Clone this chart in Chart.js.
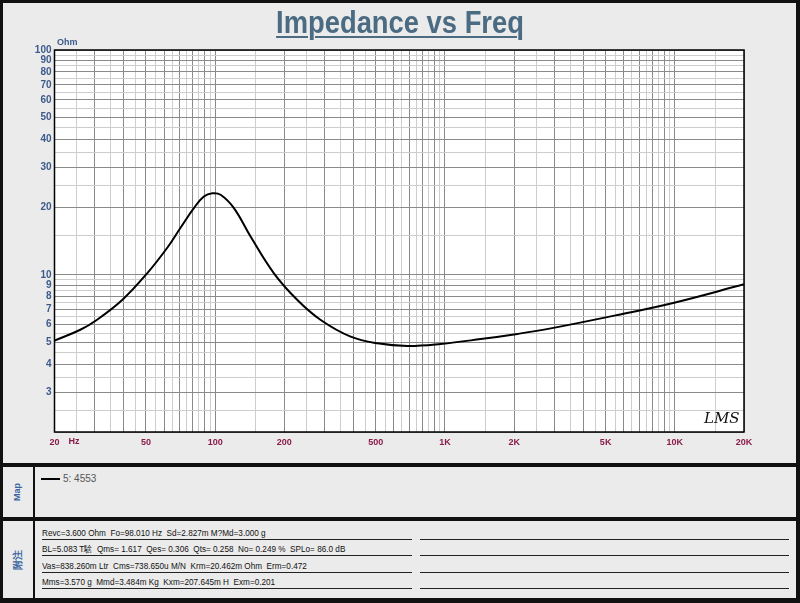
<!DOCTYPE html>
<html>
<head>
<meta charset="utf-8">
<script src="https://cdn.jsdelivr.net/npm/chart.js@4.4.1/dist/chart.umd.min.js"></script>
<style>
  body { margin: 0; background: #ebebeb; font-family: "Liberation Sans", Arial, sans-serif; }
  #page { position: relative; width: 800px; height: 603px; overflow: hidden; background: #ebebeb; }
  #chart-box { position: absolute; left: 0; top: 0; width: 800px; height: 463px; }
  #title { position: absolute; left: 0; top: 4px; width: 800px; text-align: center;
    font-family: "Liberation Sans", Arial, sans-serif;
    font-weight: bold; font-size: 32px; color: #4a6b82;
    transform: scaleX(0.855); transform-origin: 400px 0;
    text-decoration: underline; text-decoration-thickness: 2px; text-underline-offset: 3px; }
  .bar { position: absolute; background: #111; }
  .side { position: absolute; color: #3a64a0; font-weight: bold; transform: translate(-50%, -50%) rotate(-90deg); white-space: nowrap; }
  #legend-line { position: absolute; left: 41px; top: 478px; width: 19px; height: 2px; background: #000; }
  #legend-text { position: absolute; left: 63px; top: 473px; font-size: 10px; line-height: 12px; color: #555; }
  .note { position: absolute; left: 42px; font-size: 9.2px; line-height: 10px; color: #111; white-space: pre;
    transform: scaleX(0.89); transform-origin: 0 0; }
  .rule { position: absolute; height: 1px; background: #222; }
</style>
</head>
<body>
<div id="page">
  <div id="chart-box"><canvas id="chart"></canvas></div>
  <div id="title">Impedance vs Freq</div>

  <div class="bar" style="left:0;top:463px;width:800px;height:4px"></div>
  <div class="bar" style="left:0;top:517px;width:800px;height:4px"></div>
  <div class="bar" style="left:33px;top:467px;width:2px;height:131px"></div>
  <div class="bar" style="left:0;top:0;width:800px;height:3px"></div>
  <div class="bar" style="left:0;top:0;width:3px;height:603px"></div>
  <div class="bar" style="left:796px;top:0;width:4px;height:603px"></div>
  <div class="bar" style="left:0;top:598px;width:800px;height:5px"></div>

  <div class="side" style="left:17px;top:492px;font-size:9px">Map</div>
  <div id="legend-line"></div>
  <div id="legend-text"></div>

  <div class="side" style="left:18px;top:560px;font-size:10px">附注</div>
  <div id="notes"></div>
</div>

<script>
// curve
const freqHz = [20, 25.9, 30.2, 39.4, 50.6, 61.9, 70.7, 80.8, 89.3, 97.2, 105.6, 120.7, 142.6, 180.2,
                227.9, 288, 388.8, 508, 686, 958, 1431, 2066, 2887, 5633, 9934, 20000];
const impedanceOhm = [5.1, 5.7, 6.25, 7.73, 10.16, 13.2, 16.2, 19.8, 22.3, 23.06, 22.7, 19.8, 14.8, 10.16,
                      7.73, 6.30, 5.31, 4.96, 4.83, 4.93, 5.18, 5.46, 5.78, 6.63, 7.52, 9.08];
const seriesName = '5: 4553';

const xTickValues = [20, 50, 100, 200, 500, 1000, 2000, 5000, 10000, 20000];
const xTickLabels = ['20', '50', '100', '200', '500', '1K', '2K', '5K', '10K', '20K'];
const yTickValues = [3, 4, 5, 6, 7, 8, 9, 10, 20, 30, 40, 50, 60, 70, 80, 90, 100];
const yTickLabels = ['3', '4', '5', '6', '7', '8', '9', '10', '20', '30', '40', '50', '60', '70', '80', '90', '100'];

const noteLines = [
  'Revc=3.600 Ohm  Fo=98.010 Hz  Sd=2.827m M?Md=3.000 g',
  'BL=5.083 T騇  Qms= 1.617  Qes= 0.306  Qts= 0.258  No= 0.249 %  SPLo= 86.0 dB',
  'Vas=838.260m Ltr  Cms=738.650u M/N  Krm=20.462m Ohm  Erm=0.472',
  'Mms=3.570 g  Mmd=3.484m Kg  Kxm=207.645m H  Exm=0.201'
];

// grid lines at every 1, 1.5, 2, 2.5 ... 9.5 of a decade
const gridSteps = [1, 1.5, 2, 2.5, 3, 3.5, 4, 4.5, 5, 5.5, 6, 6.5, 7, 7.5, 8, 8.5, 9, 9.5];

function gridValues(min, max) {
    const out = [];
    for (let d = 1; d <= 100000; d *= 10) {
        for (const m of gridSteps) {
            const v = m * d;
            if (v >= min - 1e-9 && v <= max + 1e-9) out.push(v);
        }
    }
    return out;
}

function isMajor(v) {
    const m = v / Math.pow(10, Math.floor(Math.log10(v) + 1e-9));
    return Math.abs(m - Math.round(m)) < 1e-6;
}

function gridColor(ctx) {
    if (!ctx.tick) return '#c8c8c8';
    return isMajor(ctx.tick.value) ? '#8a8a8a' : '#cdcdcd';
}

// notes block
const notes = document.getElementById('notes');
noteLines.forEach((line, i) => {
    const y = 539 + i * 16.4;
    const t = document.createElement('div');
    t.className = 'note';
    t.style.top = (y - 11) + 'px';
    t.textContent = line;
    notes.appendChild(t);
    const r1 = document.createElement('div');
    r1.className = 'rule';
    r1.style.cssText = `left:42px;width:370px;top:${Math.round(y)}px`;
    notes.appendChild(r1);
    const r2 = document.createElement('div');
    r2.className = 'rule';
    r2.style.cssText = `left:420px;width:369px;top:${Math.round(y)}px`;
    notes.appendChild(r2);
});
document.getElementById('legend-text').textContent = seriesName;

const plotFrame = {
    id: 'plotFrame',
    beforeDraw(chart) {
        const { ctx, chartArea: a } = chart;
        ctx.save();
        ctx.fillStyle = '#ebebeb';
        ctx.fillRect(0, 0, chart.width, chart.height);
        ctx.fillStyle = '#ffffff';
        ctx.fillRect(a.left, a.top, a.right - a.left, a.bottom - a.top);
        ctx.restore();
    },
    afterDraw(chart) {
        const { ctx, chartArea: a, scales } = chart;
        ctx.save();
        ctx.strokeStyle = '#000';
        ctx.lineWidth = 1.5;
        ctx.strokeRect(a.left, a.top, a.right - a.left, a.bottom - a.top);

        ctx.font = 'bold 9px "Liberation Sans", Arial, sans-serif';
        ctx.textBaseline = 'alphabetic';
        ctx.textAlign = 'left';
        ctx.fillStyle = '#3c5a8a';
        ctx.fillText('Ohm', a.left + 2.5, a.top - 5);
        ctx.fillStyle = '#8a1c4c';
        ctx.fillText('Hz', scales.x.getPixelForValue(20) + 14, a.bottom + 12);

        ctx.font = 'italic 15px "DejaVu Serif", serif';
        ctx.fillStyle = '#111';
        ctx.fillText('LMS', a.right - 40, a.bottom - 9);
        ctx.restore();
    }
};

const ctx = document.getElementById('chart');
const myChart = new Chart(ctx, {
    type: 'line',
    data: {
        datasets: [{
            label: seriesName,
            data: freqHz.map((f, i) => ({ x: f, y: impedanceOhm[i] })),
            borderColor: '#000',
            borderWidth: 2,
            pointRadius: 0,
            tension: 0.4,
            fill: false
        }]
    },
    options: {
        responsive: true,
        maintainAspectRatio: false,
        animation: false,
        layout: { padding: { left: 0, top: 50, right: 56, bottom: 0 } },
        plugins: {
            legend: { display: false },
            tooltip: { enabled: false }
        },
        scales: {
            x: {
                type: 'logarithmic',
                min: 20,
                max: 20000,
                afterBuildTicks: (scale) => { scale.ticks = gridValues(20, 20000).map(v => ({ value: v })); },
                afterFit: (scale) => { scale.height = 31; },
                grid: { color: gridColor, lineWidth: 1, drawTicks: false },
                border: { display: false },
                ticks: {
                    autoSkip: false,
                    maxRotation: 0,
                    padding: 5,
                    color: '#8a1c4c',
                    font: { family: '"Liberation Sans", Arial, sans-serif', size: 9, weight: 'bold' },
                    callback: (value) => {
                        const i = xTickValues.indexOf(value);
                        return i >= 0 ? xTickLabels[i] : '';
                    }
                }
            },
            y: {
                type: 'logarithmic',
                min: 2,
                max: 100,
                afterBuildTicks: (scale) => { scale.ticks = gridValues(2, 100).map(v => ({ value: v })); },
                afterFit: (scale) => { scale.width = 54.5; },
                grid: { color: gridColor, lineWidth: 1, drawTicks: false },
                border: { display: false },
                ticks: {
                    autoSkip: false,
                    padding: 3,
                    color: '#3c5a8a',
                    font: { family: '"Liberation Sans", Arial, sans-serif', size: 10, weight: 'bold' },
                    callback: (value) => {
                        const i = yTickValues.indexOf(value);
                        return i >= 0 ? yTickLabels[i] : '';
                    }
                }
            }
        }
    },
    plugins: [plotFrame]
});
</script>
</body>
</html>
